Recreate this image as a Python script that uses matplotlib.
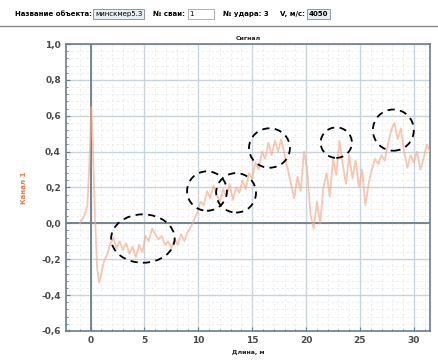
import matplotlib.pyplot as plt
from matplotlib.patches import Ellipse
from matplotlib.ticker import MultipleLocator, FuncFormatter

# signal trace
length_m = [
    -1.0, -0.6, -0.3, -0.1, 0.05, 0.2, 0.4, 0.6, 0.8, 1.0, 1.2, 1.5, 1.8, 2.1,
    2.4, 2.7, 3.0, 3.3, 3.6, 3.9, 4.2, 4.5, 4.8, 5.1, 5.4, 5.7, 6.0, 6.3, 6.6,
    6.9, 7.2, 7.5, 7.8, 8.1, 8.4, 8.7, 9.0, 9.3, 9.6, 9.9, 10.2, 10.5, 10.8,
    11.1, 11.4, 11.7, 12.0, 12.3, 12.6, 12.9, 13.2, 13.5, 13.8, 14.1, 14.4,
    14.7, 15.0, 15.3, 15.6, 15.9, 16.2, 16.5, 16.8, 17.1, 17.4, 17.7, 18.0,
    18.3, 18.6, 18.9, 19.2, 19.5, 19.8, 20.1, 20.4, 20.7, 21.0, 21.3, 21.6,
    21.9, 22.2, 22.5, 22.8, 23.1, 23.4, 23.7, 24.0, 24.3, 24.6, 24.9, 25.2,
    25.5, 25.8, 26.1, 26.4, 26.7, 27.0, 27.3, 27.6, 27.9, 28.2, 28.5, 28.8,
    29.1, 29.4, 29.7, 30.0, 30.3, 30.6, 30.9, 31.2, 31.5,
]
channel_1 = [
    0.0, 0.04, 0.10, 0.35, 0.65, 0.45, 0.05, -0.25, -0.33, -0.28, -0.22, -0.18,
    -0.12, -0.08, -0.14, -0.10, -0.15, -0.11, -0.17, -0.13, -0.19, -0.12, -0.16,
    -0.07, -0.10, -0.03, -0.06, -0.09, -0.07, -0.12, -0.10, -0.14, -0.09, -0.12,
    -0.06, -0.10, -0.05, -0.02, 0.02, 0.06, 0.12, 0.10, 0.18, 0.14, 0.21, 0.16,
    0.12, 0.19, 0.15, 0.22, 0.13, 0.20, 0.17, 0.24, 0.19, 0.28, 0.25, 0.34,
    0.30, 0.40, 0.36, 0.45, 0.38, 0.46, 0.40, 0.47, 0.38, 0.30, 0.22, 0.14,
    0.26, 0.18, 0.40, 0.30, 0.05, -0.03, 0.12, 0.00, 0.20, 0.28, 0.15, 0.36,
    0.27, 0.46, 0.33, 0.22, 0.38, 0.25, 0.35, 0.20, 0.30, 0.10, 0.22, 0.30,
    0.36, 0.33, 0.38, 0.35, 0.44, 0.52, 0.56, 0.47, 0.53, 0.40, 0.31, 0.38,
    0.34, 0.40, 0.30, 0.36, 0.44, 0.40,
]

# dashed marks drawn over the trace: centre x, centre y, width, height
mark_x = [4.85, 10.8, 13.5, 16.6, 22.8, 28.1]
mark_y = [-0.085, 0.18, 0.17, 0.42, 0.45, 0.52]
mark_w = [5.9, 3.7, 3.7, 3.8, 2.9, 3.8]
mark_h = [0.27, 0.22, 0.22, 0.22, 0.17, 0.23]

frame_color = "#6a7d90"
grid_color = "#c9d3dc"

fig = plt.figure(figsize=(4.39, 3.64), dpi=100)
ax = fig.add_axes([0.150, 0.091, 0.8295, 0.788])

ax.plot(length_m, channel_1, color="#f6a985", lw=1.3, alpha=0.65, zorder=3)

for cx, cy, w, h in zip(mark_x, mark_y, mark_w, mark_h):
    ax.add_patch(Ellipse((cx, cy), w, h, fill=False, ec="black",
                         lw=1.3, ls=(0, (4, 3)), zorder=5))

ax.set_xlim(-2.3, 31.5)
ax.set_ylim(-0.6, 1.0)
ax.xaxis.set_major_locator(MultipleLocator(5))
ax.xaxis.set_minor_locator(MultipleLocator(1))
ax.yaxis.set_major_locator(MultipleLocator(0.2))
ax.yaxis.set_minor_locator(MultipleLocator(0.04))
ax.yaxis.set_major_formatter(FuncFormatter(lambda v, _: f"{v:.1f}".replace(".", ",")))

ax.grid(which="major", color=grid_color, lw=1.0)
ax.grid(which="minor", color="#e6ebf0", lw=0.6, ls=(0, (3, 3)))
ax.axhline(0, color=frame_color, lw=1.3, zorder=2)
ax.axvline(0, color=frame_color, lw=1.3, zorder=2)

for spine in ax.spines.values():
    spine.set_color(frame_color)
    spine.set_linewidth(1.2)
ax.tick_params(which="both", colors=frame_color, labelcolor="#4a4a4a",
               labelsize=6.5, direction="in")
ax.tick_params(which="major", length=3)
ax.tick_params(which="minor", length=1.5)
for lbl in ax.get_xticklabels() + ax.get_yticklabels():
    lbl.set_fontweight("bold")

ax.set_title("Сигнал", fontsize=4.5, fontweight="bold", color="#222222", pad=3)
ax.set_xlabel("Длина, м", fontsize=4.5, fontweight="bold", color="#222222", labelpad=4)
ax.set_ylabel("Канал 1", fontsize=5, fontweight="bold", color="#f07840", labelpad=10)

# header bar of the program window
hdr_y = 1 - 14 / 364
box = dict(boxstyle="square,pad=0.25", fc="#e8eef4", ec="#7a8a9a", lw=0.6)
fig.text(15 / 439, hdr_y, "Название объекта:", fontsize=5, fontweight="bold", va="center")
fig.text(95 / 439, hdr_y, "минскмер5.3", fontsize=5, va="center", bbox=box)
fig.text(153 / 439, hdr_y, "№ сваи:", fontsize=5, fontweight="bold", va="center")
fig.text(190 / 439, hdr_y, "1        ", fontsize=5, va="center",
         bbox=dict(boxstyle="square,pad=0.25", fc="white", ec="#9aa6b2", lw=0.6))
fig.text(223 / 439, hdr_y, "№ удара: 3", fontsize=5, fontweight="bold", va="center")
fig.text(280 / 439, hdr_y, "V, м/с:", fontsize=5, fontweight="bold", va="center")
fig.text(309 / 439, hdr_y, "4050", fontsize=5, fontweight="bold", va="center", bbox=box)
fig.add_artist(plt.Line2D([0, 0.995], [1 - 26 / 364] * 2, color="#8a8a8a", lw=1.0))

fig.savefig("out.png", dpi=100)
